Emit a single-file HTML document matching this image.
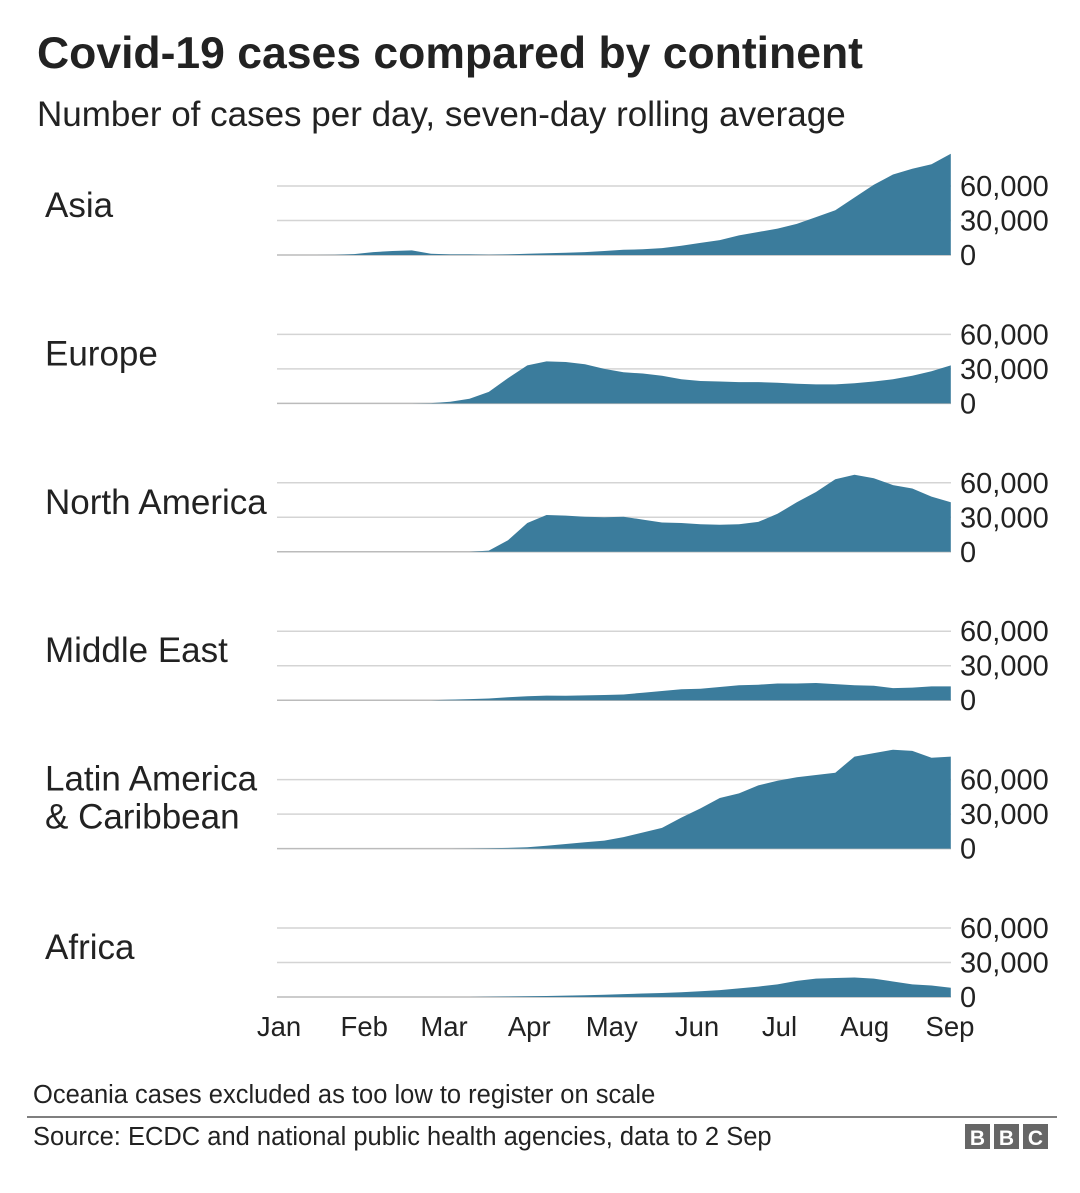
<!DOCTYPE html>
<html><head><meta charset="utf-8"><style>
body{margin:0;background:#fff;}
svg{display:block;font-family:"Liberation Sans",Arial,sans-serif;}
</style></head><body>
<svg id="chart" width="1080" height="1193" viewBox="0 0 1080 1193">
<text x="37" y="68" font-size="44.5" font-weight="bold" fill="#222">Covid-19 cases compared by continent</text>
<text x="37" y="126" font-size="35" fill="#222">Number of cases per day, seven-day rolling average</text>
<g id="panels"></g>
<g id="months"></g>
<text x="33" y="1103" font-size="25.5" fill="#222">Oceania cases excluded as too low to register on scale</text>
<line x1="27" y1="1117" x2="1057" y2="1117" stroke="#555" stroke-width="1.5"/>
<text x="33" y="1145" font-size="25.5" fill="#222">Source: ECDC and national public health agencies, data to 2 Sep</text>
<g>
<rect x="965" y="1124" width="25" height="25" fill="#666"/><rect x="994" y="1124" width="25" height="25" fill="#666"/><rect x="1023" y="1124" width="25" height="25" fill="#666"/>
<text x="977.5" y="1145" font-size="21" font-weight="bold" fill="#fff" text-anchor="middle">B</text>
<text x="1006.5" y="1145" font-size="21" font-weight="bold" fill="#fff" text-anchor="middle">B</text>
<text x="1035.5" y="1145" font-size="21" font-weight="bold" fill="#fff" text-anchor="middle">C</text>
</g>
</svg>
<script>
const continents=["Asia","Europe","North America","Middle East","Latin America & Caribbean","Africa"];
const days=[0,7,14,21,28,35,42,49,56,63,70,77,84,91,98,105,112,119,126,133,140,147,154,161,168,175,182,189,196,203,210,217,224,231,238,245];
const asia=[0,0,0,100,800,2500,3500,4000,1000,500,500,300,500,1000,1500,2000,2500,3500,4500,5000,6000,8000,10500,13000,17000,20000,23000,27000,33000,39000,50000,61000,70000,75000,79000,88000];
const europe=[0,0,0,0,0,0,0,0,300,1500,4000,10000,22000,33000,36500,36000,34000,30000,27000,26000,24000,21000,19500,19000,18500,18500,18000,17000,16500,16500,17500,19000,21000,24000,28000,33000];
const northAmerica=[0,0,0,0,0,0,0,0,0,0,0,1000,10000,25000,32000,31500,30500,30000,30500,28000,25500,25000,24000,23500,24000,26000,33000,43000,52000,63000,67000,64000,58000,55000,48000,43000];
const middleEast=[0,0,0,0,0,0,0,0,0,500,1000,1500,2500,3500,4000,3800,4200,4500,5000,6500,8000,9500,10000,11500,13000,13500,14500,14500,15000,14000,13000,12500,10500,11000,12000,12000];
const latinAmerica=[0,0,0,0,0,0,0,0,0,0,100,300,600,1200,2500,4000,5500,7000,10000,14000,18000,27000,35000,44000,48000,55000,59000,62000,64000,66000,80000,83000,86000,85000,79000,80000];
const africa=[0,0,0,0,0,0,0,0,0,0,0,200,400,600,900,1200,1500,2000,2500,3000,3500,4200,5000,6000,7500,9000,11000,14000,16000,16500,17000,16000,13500,11000,10000,8000];
const yTicks=[0,30000,60000];
const tickLabels=["0","30,000","60,000"];
const months=["Jan","Feb","Mar","Apr","May","Jun","Jul","Aug","Sep"];
const monthDays=[0,31,60,91,121,152,182,213,244];
const series=[asia,europe,northAmerica,middleEast,latinAmerica,africa];

const NS="http://www.w3.org/2000/svg";
const x0=277, pxPerDay=671/244, pxPerCase=69/60000;
const xScale=d=>x0+d*pxPerDay;
const baseFor=i=>255+i*148.4;
const yScale=(v,i)=>baseFor(i)-v*pxPerCase;
const panels=document.getElementById('panels');
function mk(tag,attrs,parent){const e=document.createElementNS(NS,tag);for(const k in attrs)e.setAttribute(k,attrs[k]);parent.appendChild(e);return e;}
continents.forEach((name,i)=>{
  const g=mk('g',{},panels);
  
  
  yTicks.forEach((t,j)=>{
    const y=yScale(t,i);
    const l=mk('line',{x1:x0,x2:951,y1:y,y2:y,stroke:j==0?'#bbb':'#d4d4d4','stroke-width':1.5},g);
    
    
    const tx=mk('text',{x:960,y:y+10,'font-size':29,fill:'#222'},g);
    tx.textContent=tickLabels[j];
    
    
  });
  const vals=series[i];
  let d='M'+xScale(days[0])+','+baseFor(i);
  vals.forEach((v,k)=>{d+=' L'+xScale(days[k]).toFixed(1)+','+yScale(v,i).toFixed(1);});
  d+=' L'+xScale(days[days.length-1]).toFixed(1)+','+baseFor(i)+' Z';
  const a=mk('path',{d:d,fill:'#3b7c9c'},g);
  
  
  const parts=name==="Latin America & Caribbean"?["Latin America","& Caribbean"]:[name];
  parts.forEach((p,k)=>{
    const t=mk('text',{x:45,y:(parts.length>1?baseFor(i)-58+k*38:baseFor(i)-38),'font-size':35,fill:'#222'},g);
    t.textContent=p;
    
    
  });
});
const mg=document.getElementById('months');
months.forEach((m,i)=>{
  const t=mk('text',{x:xScale(monthDays[i])+2,y:1036,'font-size':27.5,fill:'#222','text-anchor':'middle'},mg);
  t.textContent=m;
  
  
});
</script>
</body></html>
